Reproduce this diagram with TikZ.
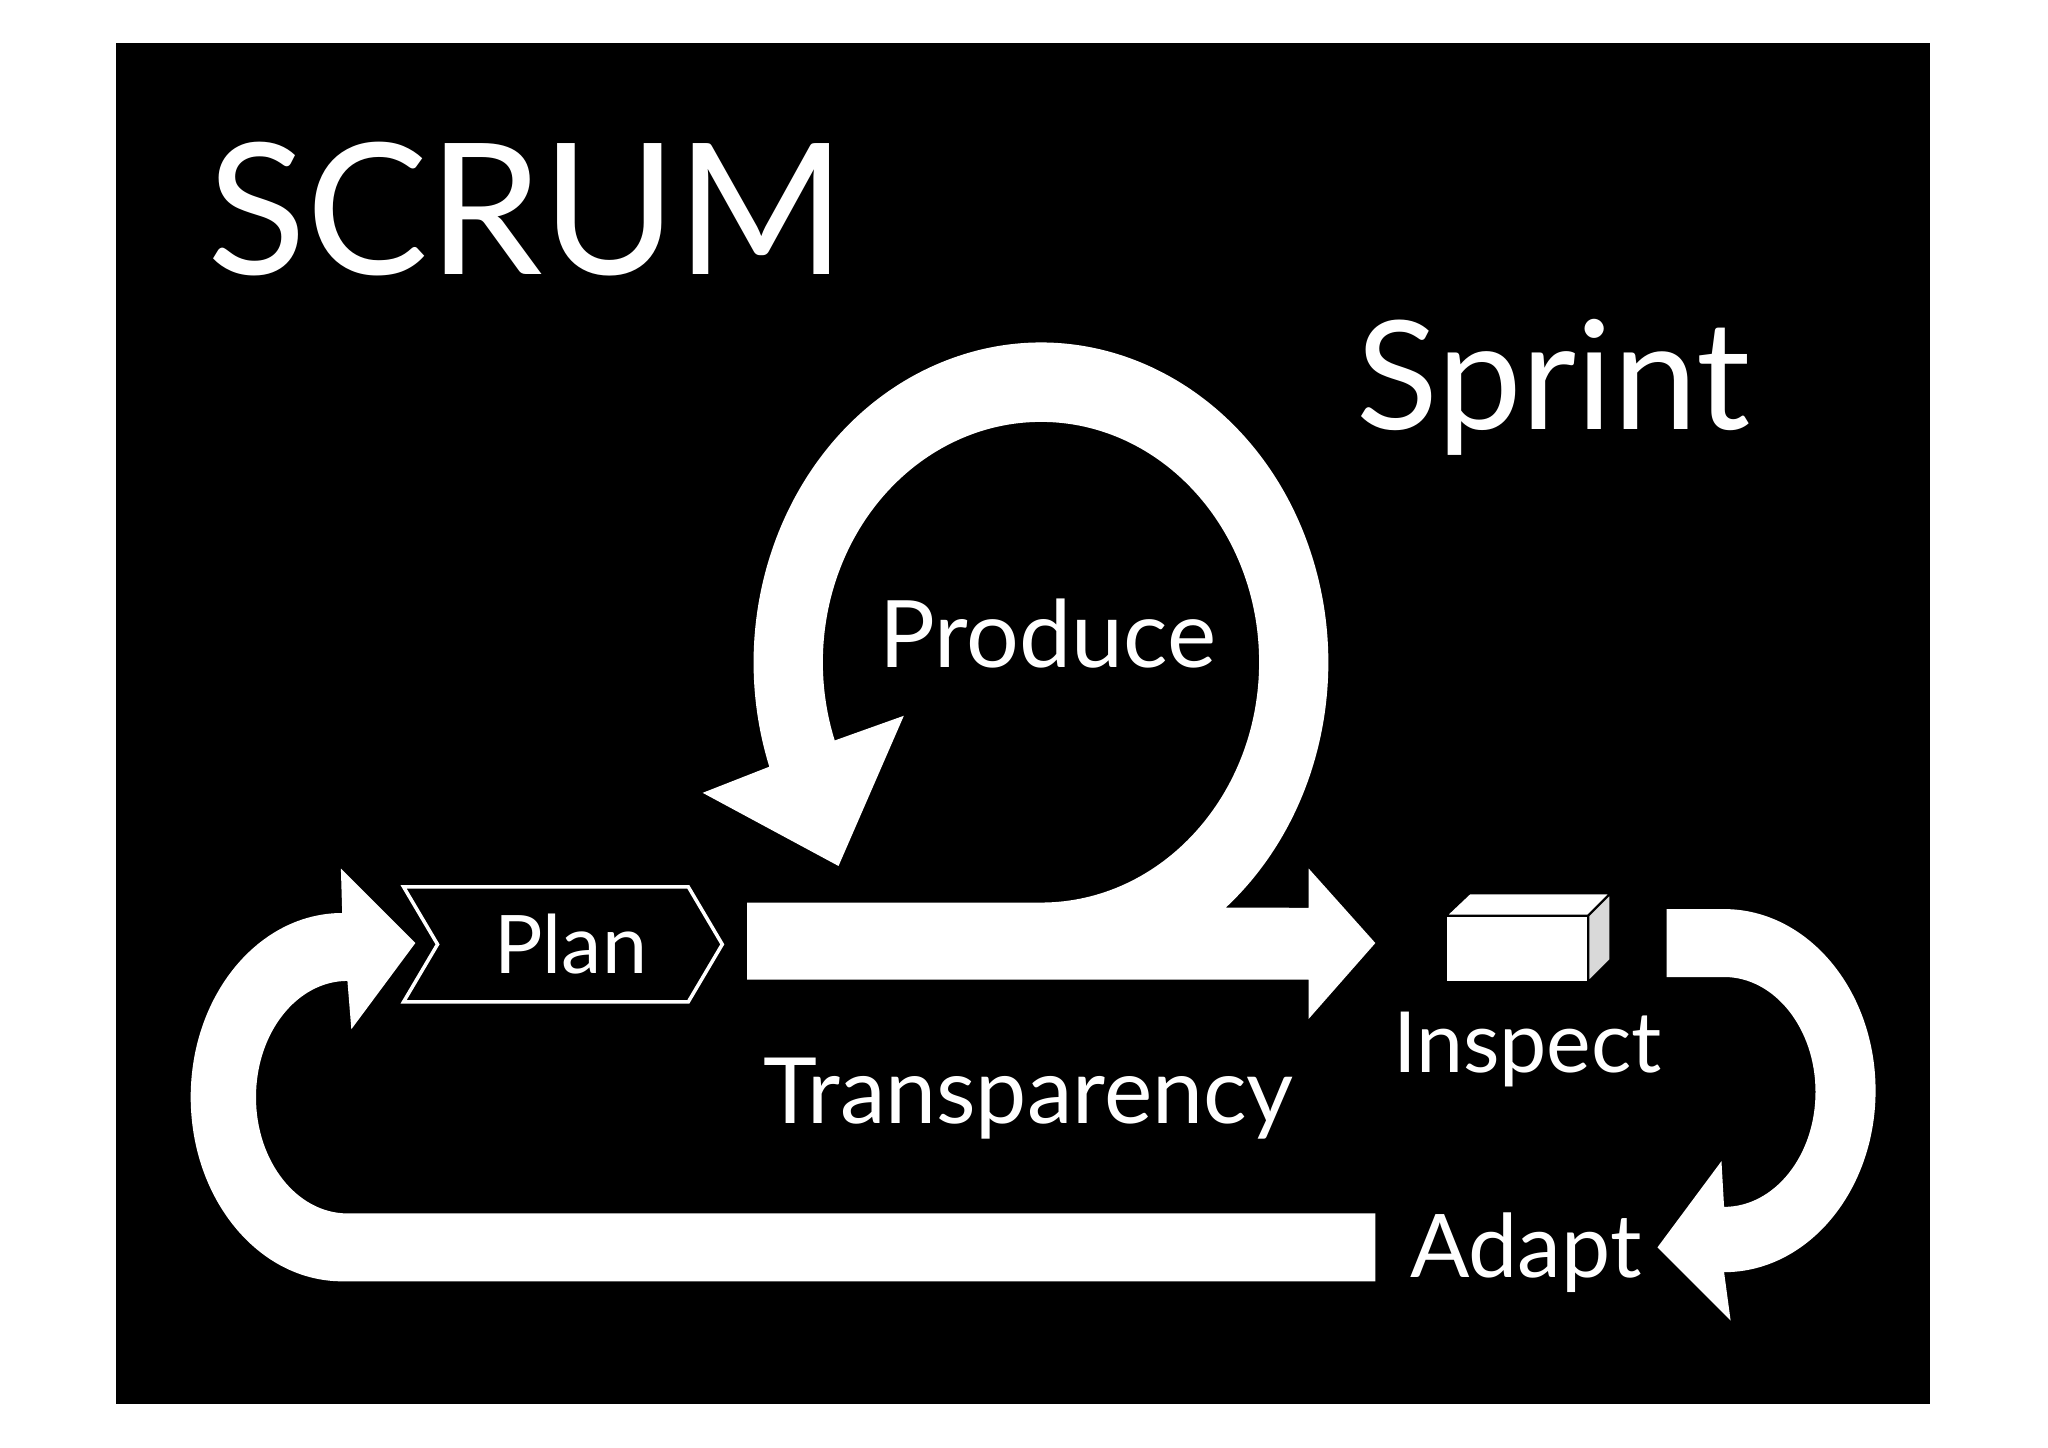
\documentclass[tikz,border=0pt]{standalone}
\usepackage{fontspec}
\setmainfont{Lato}
\definecolor{sidegray}{RGB}{217, 217, 217}
\tikzset{
  band/.style={fill=white, draw=none},
  label/.style={text=white, inner sep=0pt, anchor=base west}
}
\begin{document}
\begin{tikzpicture}[x=0.01306cm, y=-0.01306cm]
  \useasboundingbox (0,0) rectangle (1568,1108);
  \fill[black] (89,33) rectangle (1478,1075);
  % sprint loop
  \path[band] (572,691) -- (797,691)
    arc[start angle=90, end angle=-199, x radius=167, y radius=184]
    -- (692,548) -- (642,663) -- (538,607) -- (589,587)
    arc[start angle=161, end angle=410, x radius=220, y radius=245]
    -- (1002,695) -- (1002,665) -- (1053,722) -- (1002,780) -- (1002,750)
    -- (572,750) -- cycle;
  % feedback loop
  \path[band] (1053,929) -- (266,929)
    arc[start angle=90, end angle=270, x radius=70, y radius=89]
    -- (269,788) -- (318,722) -- (261,665) -- (262,699)
    arc[start angle=270, end angle=90, x radius=116, y radius=141]
    -- (1053,981) -- cycle;
  % inspect/adapt loop
  \path[band] (1276,696) -- (1320,696)
    arc[start angle=-90, end angle=90, x radius=116, y radius=139]
    -- (1325,1011) -- (1269,955) -- (1318,889) -- (1320,924)
    arc[start angle=90, end angle=-90, x radius=70, y radius=88]
    -- (1276,748) -- cycle;
  % plan chevron
  \draw[white, fill=black, line width=1pt] (309,679) -- (527,679) -- (553,723)
    -- (527,767) -- (309,767) -- (335,723) -- cycle;
  % increment box
  \draw[fill=white, line width=0.6pt] (1107,701) -- (1125,684) -- (1233,684) -- (1216,701) -- cycle;
  \draw[fill=sidegray, line width=0.6pt] (1216,701) -- (1233,684) -- (1233,735) -- (1216,752) -- cycle;
  \draw[fill=white, line width=0.6pt] (1107,701) rectangle (1216,752);
  % texts
  \node[label, font=\fontsize{52}{56}\selectfont] (scrum) at (158,210) {SCRUM};
  \node[label, font=\fontsize{43}{48}\selectfont] (sprint) at (1038,329) {Sprint};
  \node[label, font=\fontsize{26.5}{30}\selectfont] (produce) at (673,511) {Produce};
  \node[label, font=\fontsize{23}{26}\selectfont] (plan) at (378,745) {Plan};
  \node[label, font=\fontsize{26}{30}\selectfont] (transparency) at (584,860) {Transparency};
  \node[label, font=\fontsize{24}{28}\selectfont] (inspect) at (1066,821) {Inspect};
  \node[label, font=\fontsize{25}{28}\selectfont] (adapt) at (1079,978) {Adapt};
\end{tikzpicture}
\end{document}
